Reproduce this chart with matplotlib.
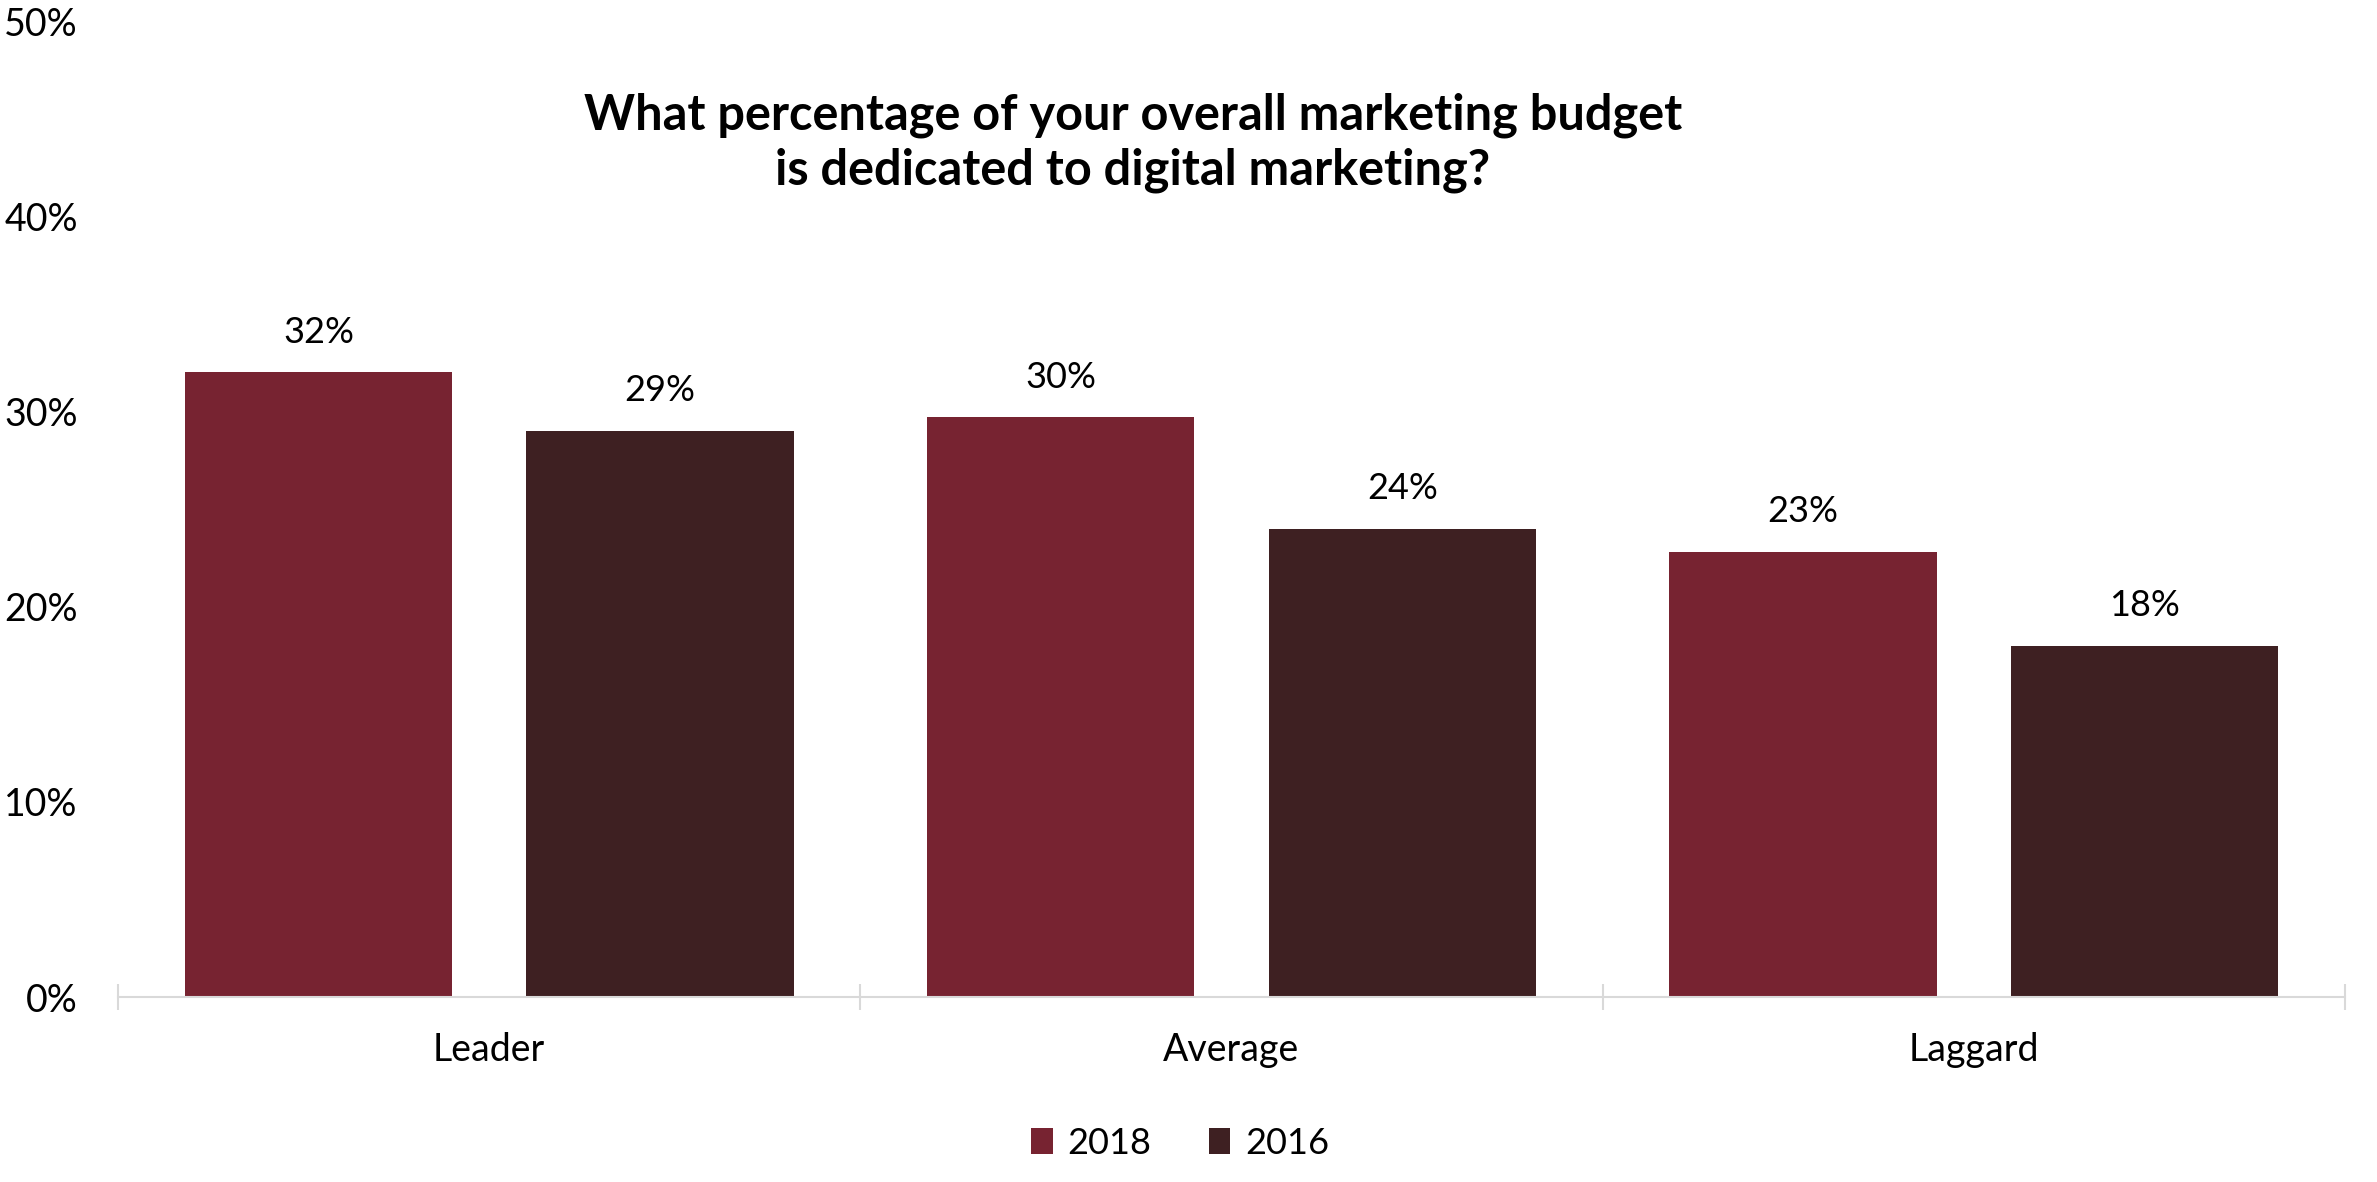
import matplotlib
matplotlib.use("Agg")
import matplotlib.pyplot as plt
import numpy as np
from matplotlib.ticker import FixedLocator, PercentFormatter

categories = ["Leader", "Average", "Laggard"]
series_names = ["2018", "2016"]
values_2018 = [32.0, 29.7, 22.8]
values_2016 = [29.0, 24.0, 18.0]
y_ticks = [0, 10, 20, 30, 40, 50]
title = "What percentage of your overall marketing budget\nis dedicated to digital marketing?"

colors = ["#772331", "#3e2022"]
plt.rcParams['font.family'] = ['Lato', 'DejaVu Sans']

W, H = 2377, 1182
fig = plt.figure(figsize=(W / 100, H / 100), dpi=100)
ax = fig.add_axes([118 / W, 1 - 997 / H, (2345 - 118) / W, (997 - 21) / H])

x = np.arange(len(categories))
bw = 0.36
off = 0.23
for i, (vals, name) in enumerate(zip([values_2018, values_2016], series_names)):
    pos = x + (-off if i == 0 else off)
    bars = ax.bar(pos, vals, width=bw, color=colors[i], label=name, zorder=2)
    for b, v in zip(bars, vals):
        ax.annotate(f"{v:.0f}%", (b.get_x() + b.get_width() / 2, v),
                    xytext=(0, 17), textcoords="offset points",
                    ha="center", va="bottom", fontsize=26, color="black")

ax.set_xlim(-0.5, 2.5)
ax.set_ylim(0, 50)
ax.set_yticks(y_ticks)
ax.yaxis.set_major_formatter(PercentFormatter(decimals=0))
ax.tick_params(axis="y", length=0, pad=29, labelsize=27)
ax.set_xticks(x)
ax.set_xticklabels(categories)
ax.tick_params(axis="x", which="major", length=0, pad=25, labelsize=27)
ax.xaxis.set_minor_locator(FixedLocator([-0.5, 0.5, 1.5, 2.5]))
ax.tick_params(axis="x", which="minor", direction="inout", length=19,
               width=1.5, color="#d9d9d9")
for s in ["top", "right", "left"]:
    ax.spines[s].set_visible(False)
ax.spines["bottom"].set_color("#d9d9d9")
ax.spines["bottom"].set_linewidth(1.5)

fig.text(1133 / W, 1 - 143 / H, title, ha="center", va="center",
         fontsize=35, fontweight="bold", linespacing=1.25)

fig.legend(loc="center", bbox_to_anchor=(1180 / W, 1 - 1143 / H), ncol=2,
           frameon=False, fontsize=26, handlelength=0.6, handleheight=0.7,
           handletextpad=0.4, columnspacing=1.6)

fig.savefig("out.png", dpi=100)
